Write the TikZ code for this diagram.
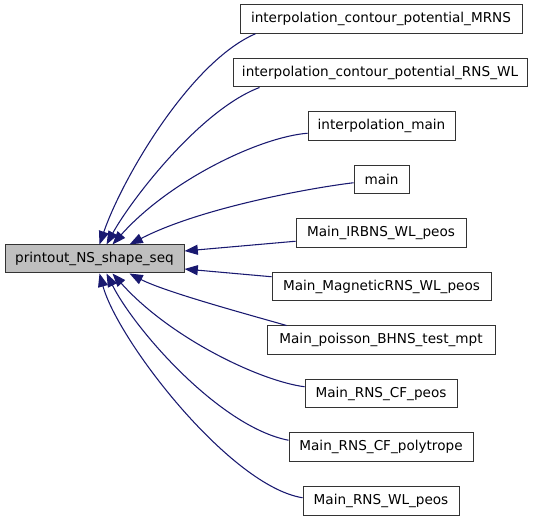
\documentclass[tikz,border=0pt]{standalone}
\usepackage{fontspec}
\setmainfont{DejaVu Sans}
\usetikzlibrary{arrows.meta,calc}
\definecolor{edgeblue}{HTML}{191970}
\definecolor{nodegray}{HTML}{BFBFBF}
\tikzset{
  box/.style={draw=black!80, line width=0.75pt, fill=white, inner sep=0pt,
    minimum height=28.5*0.75pt, font=\fontsize{10.2}{12}\selectfont},
  boxw/.style={minimum width=#1*0.75pt},
  mainbox/.style={box, fill=nodegray},
  edge/.style={draw=edgeblue, line width=0.8pt,
    -{Triangle[length=10pt,width=7.5pt]}}
}
\begin{document}
\begin{tikzpicture}[x=0.75pt,y=-0.75pt]
\useasboundingbox (0,0) rectangle (536,520);
\node[mainbox, boxw=179, minimum height=28*0.75pt] (m) at (94.5,259) {printout\_NS\_shape\_seq};
\node[box, boxw=282] (n1) at (381,19) {interpolation\_contour\_potential\_MRNS};
\node[box, boxw=294] (n2) at (380,72.75) {interpolation\_contour\_potential\_RNS\_WL};
\node[box, boxw=147] (n3) at (381.5,126.25) {interpolation\_main};
\node[box, boxw=55] (n4) at (381.5,179.75) {main};
\node[box, boxw=170] (n5) at (381,233.25) {Main\_IRBNS\_WL\_peos};
\node[box, boxw=219] (n6) at (381.5,286.75) {Main\_MagneticRNS\_WL\_peos};
\node[box, boxw=228] (n7) at (381,340.25) {Main\_poisson\_BHNS\_test\_mpt};
\node[box, boxw=152] (n8) at (381,393.75) {Main\_RNS\_CF\_peos};
\node[box, boxw=184] (n9) at (381,447.25) {Main\_RNS\_CF\_polytrope};
\node[box, boxw=156] (n10) at (381,500.75) {Main\_RNS\_WL\_peos};
% edges (arrow into printout_NS_shape_seq)
\draw[edge] ($(n1.south west)+(16,0)$) .. controls (190,62) and (122,179) .. ($(m.north west)+(95,0)$);
\draw[edge] ($(n2.south west)+(27,0)$) .. controls (200,110) and (131,200) .. ($(m.north west)+(102,0)$);
\draw[edge] ($(n3.west)+(0,7)$) .. controls (260,137) and (170,180) .. ($(m.north west)+(108,0)$);
\draw[edge] ($(n4.west)+(0,3)$) .. controls (310,188) and (200,208) .. ($(m.north west)+(125,0)$);
\draw[edge] ($(n5.west)+(0,8)$) -- ($(m.east)+(0,-8)$);
\draw[edge] ($(n6.west)+(0,-10)$) -- ($(m.east)+(0,10)$);
\draw[edge] ($(n7.north west)+(20,0)$) .. controls (250,315) and (165,292) .. ($(m.south west)+(125,0)$);
\draw[edge] ($(n8.west)+(0,-7)$) .. controls (260,381) and (170,338) .. ($(m.south west)+(108,0)$);
\draw[edge] ($(n9.west)+(0,-7)$) .. controls (220,427) and (135,330) .. ($(m.south west)+(102,0)$);
\draw[edge] ($(n10.west)+(0,-3)$) .. controls (230,486) and (118,341) .. ($(m.south west)+(95,0)$);
\end{tikzpicture}
\end{document}
